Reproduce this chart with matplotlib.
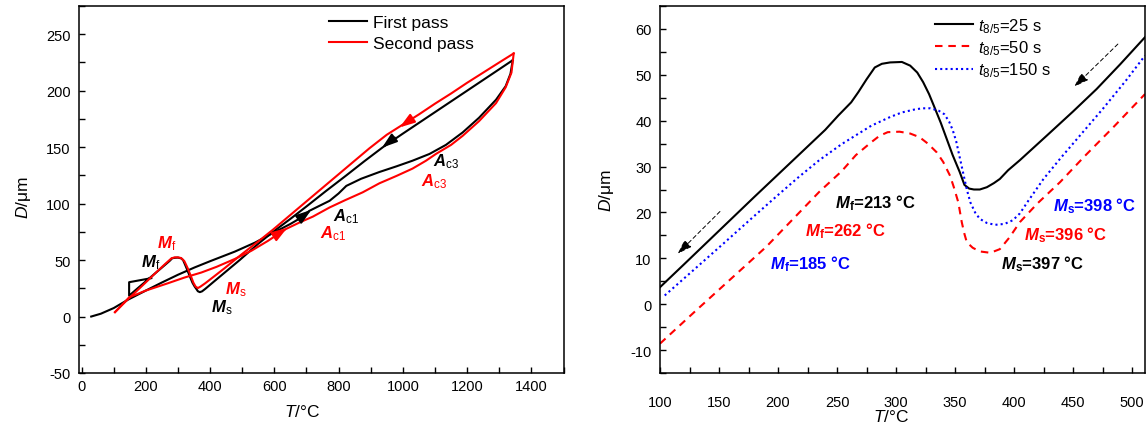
import matplotlib
matplotlib.use('Agg')
import matplotlib.pyplot as plt
from matplotlib.ticker import MultipleLocator

plt.rcParams['font.family'] = ['Liberation Sans', 'DejaVu Sans']
plt.rcParams['mathtext.fontset'] = 'custom'
plt.rcParams['mathtext.rm'] = 'Liberation Sans'
plt.rcParams['mathtext.it'] = 'Liberation Sans:italic'
plt.rcParams['mathtext.bf'] = 'Liberation Sans:bold'
plt.rcParams['mathtext.bfit'] = 'Liberation Sans:italic:bold'
plt.rcParams['axes.unicode_minus'] = False

# ---------------- Left panel data ----------------
first_heat_T = [30, 60, 100, 145, 200, 249, 300, 352, 400, 477, 540, 596, 650, 680, 709, 740, 772, 800,
                824, 870, 927, 980, 1030, 1083, 1134, 1186, 1237, 1290, 1320, 1335, 1342]
first_heat_D = [0, 2.5, 7.5, 15, 23, 30, 37, 43.5, 49, 57.5, 65.5, 74, 82, 87, 93.6, 98, 102.5, 109,
                115.7, 122, 128, 133, 138, 144, 152, 163, 176, 192, 204, 215, 227]

first_cool_T = [1342, 1300, 1250, 1200, 1150, 1100, 1050, 1000, 938, 880, 824, 760, 700, 650, 596, 550,
                492, 450, 410, 385, 375, 368, 362, 357, 352, 345, 335, 325, 316, 310, 300, 290, 282,
                275, 260, 230, 200, 170, 148, 148, 217]
first_cool_D = [227, 219, 209.5, 200, 190.5, 181, 171.5, 162, 150, 137.5, 125, 111, 97.5, 86.5, 75, 64.5,
                50, 40, 30.5, 24.5, 22.3, 21.6, 22.4, 24.5, 26.5, 30, 37, 44, 50, 51.5, 52.2, 52, 51.6,
                49.5, 45.8, 38.5, 31.2, 23.9, 18.5, 30.4, 34]

second_heat_T = [104, 125, 148, 200, 269, 320, 373, 420, 477, 530, 580, 636, 680, 720, 772, 820, 875, 927,
                 980, 1030, 1072, 1103, 1150, 1186, 1237, 1290, 1320, 1338, 1345]
second_heat_D = [3.9, 10, 17, 23, 29.5, 34.5, 39, 44, 51, 58.5, 67, 77.5, 83.5, 88.5, 96.6, 103, 110, 118,
                 124.5, 131, 138, 144, 152, 160, 173, 189, 203, 216, 233]

second_cool_T = [1345, 1300, 1250, 1200, 1150, 1100, 1050, 1000, 950, 896, 850, 800, 750, 700, 650, 596,
                 550, 500, 446, 410, 385, 370, 362, 355, 348, 340, 330, 320, 310, 300, 290, 280, 260,
                 230, 200, 170, 148, 125, 104]
second_cool_D = [233, 225, 216, 207, 197.5, 188.5, 179, 170, 161, 149, 138, 126, 114, 102, 90, 77,
                 66.5, 55.5, 43, 35, 29.5, 26.5, 25.2, 26.5, 30, 36, 43, 49, 51.8, 52.4, 52.4, 51.6, 46.5,
                 38.5, 30.3, 22.2, 16.3, 10, 3.9]

# arrows along curves (tail (T, D), head (T, D), colour)
left_arrows = [
    ((680, 87), (715, 94.5), 'black'),
    ((600, 71), (640, 78.5), 'red'),
    ((975, 158.5), (935, 149.5), 'black'),
    ((1030, 175.5), (990, 167.5), 'red'),
]

left_labels = [
    (186, 48.8, 'M', 'f', 'black'),
    (236, 65, 'M', 'f', 'red'),
    (445, 24.5, 'M', 's', 'red'),
    (404, 9, 'M', 's', 'black'),
    (782, 89, 'A', 'c1', 'black'),
    (741, 74, 'A', 'c1', 'red'),
    (1093, 138, 'A', 'c3', 'black'),
    (1057, 120, 'A', 'c3', 'red'),
]

# ---------------- Right panel data ----------------
t25_T = [100, 120, 150, 180, 217, 240, 251, 262, 268, 275, 282, 288, 295, 305, 312, 318, 323, 328, 332,
         338, 343, 348, 354, 358, 362, 366, 371, 377, 383, 388, 395, 405, 428, 450, 470, 490, 511]
t25_D = [3.7, 8.6, 16, 23.4, 32.4, 38, 41.1, 44, 46.2, 49, 51.6, 52.4, 52.7, 52.8, 52, 50.5, 48.4, 45.8,
         43.3, 39.5, 36, 32.5, 28.8, 26, 25.2, 25, 25, 25.5, 26.4, 27.3, 29.2, 31.4, 36.8, 42, 46.9, 52.3, 58.2]

t50_T = [100, 130, 160, 190, 217, 235, 254, 266, 279, 286, 293, 303, 312, 320, 327, 334.5, 340, 345.8,
         349, 352.8, 355.7, 358, 360, 365, 371, 380, 388, 396, 405, 420, 439, 460, 485, 511]
t50_D = [-8.6, -1.5, 5.5, 12.5, 19.7, 24.5, 29, 32.5, 35.3, 36.7, 37.5, 37.6, 37.2, 36.4, 35, 33.1, 31,
         28, 25.5, 22.2, 17.9, 15.3, 13.5, 12.3, 11.5, 11.2, 12, 14.5, 17.9, 22, 26.6, 32.3, 38.8, 45.8]

t150_T = [104, 130, 155, 178, 200, 217, 235, 254, 279, 295, 305, 315, 322, 329, 336, 341, 345, 348, 351,
          354, 357, 360, 363, 367, 371, 377, 384, 392, 399, 405, 412, 425, 440, 456, 475, 495, 511]
t150_D = [1.9, 7.8, 13.5, 18.8, 23.8, 27.6, 31.4, 34.9, 38.9, 40.8, 41.8, 42.4, 42.7, 42.7, 42.2, 41.4,
          39.8, 38, 35.5, 32, 28.5, 25, 22.2, 20, 18.6, 17.7, 17.3, 17.5, 18.3, 19.8, 22.5, 27.3, 32,
          36.8, 42.5, 48.8, 54.2]

right_arrows = [((488, 56.7), (451, 47.4)), ((150.8, 20.2), (115, 11))]

right_labels = [
    (248.3, 22.3, 'f', '213', 'black'),
    (222.9, 16.2, 'f', '262', 'red'),
    (193.2, 9.0, 'f', '185', 'blue'),
    (432.8, 21.6, 's', '398', 'blue'),
    (408.5, 15.3, 's', '396', 'red'),
    (388.7, 9.0, 's', '397', 'black'),
]

# ---------------- Figure ----------------
W, H = 1148, 427
fig = plt.figure(figsize=(W / 100, H / 100), dpi=100)
ax1 = fig.add_axes([79 / W, 1 - 374 / H, 484.5 / W, 367 / H])
ax2 = fig.add_axes([660 / W, 1 - 374 / H, 485 / W, 367 / H])

for ax in (ax1, ax2):
    for s in ax.spines.values():
        s.set_linewidth(1.1)
    ax.tick_params(which='both', direction='in', length=4.5, width=1.0, top=False, right=False,
                   labelsize=10.5)

# Left panel
lw = 1.5
ax1.plot(first_heat_T, first_heat_D, color='black', lw=lw, label='First pass', solid_joinstyle='round')
ax1.plot(first_cool_T, first_cool_D, color='black', lw=lw, solid_joinstyle='round')
ax1.plot(second_heat_T, second_heat_D, color='red', lw=lw, label='Second pass', solid_joinstyle='round')
ax1.plot(second_cool_T, second_cool_D, color='red', lw=lw, solid_joinstyle='round')
for (t0, t1, c) in left_arrows:
    ax1.annotate('', xy=t1, xytext=t0,
                 arrowprops=dict(arrowstyle='-|>,head_length=0.9,head_width=0.3', color=c, lw=1.5,
                                 shrinkA=0, shrinkB=0))
for (x, y, big, sub, c) in left_labels:
    ax1.text(x, y, r'$\mathbfit{%s}_{\mathrm{%s}}$' % (big, sub), color=c, fontsize=12,
             ha='left', va='center')

ax1.set_xlim(-8, 1500)
ax1.set_ylim(-50, 275)
ax1.xaxis.set_major_locator(MultipleLocator(200))
ax1.xaxis.set_minor_locator(MultipleLocator(100))
ax1.yaxis.set_major_locator(MultipleLocator(50))
ax1.yaxis.set_minor_locator(MultipleLocator(25))
ax1.tick_params(axis='x', which='both', pad=4)
ax1.tick_params(axis='y', which='both', pad=6)
ax1.set_xlabel(r'$\mathit{T}$/°C', fontsize=12.5)
ax1.set_ylabel(r'$\mathit{D}$/μm', fontsize=12.5)
ax1.xaxis.set_label_coords(0.46, -0.083)
ax1.yaxis.set_label_coords(-0.095, 0.48)
leg1 = ax1.legend(loc='upper left', bbox_to_anchor=((329 - 79) / 484.5, 0.976), frameon=False,
                  fontsize=12.5, handlelength=2.2, handletextpad=0.35, labelspacing=0.35,
                  borderpad=0, borderaxespad=0)

# Right panel
ax2.plot(t25_T, t25_D, color='black', lw=1.5, label=r'$\mathit{t}_{\mathrm{8/5}}$=25 s')
ax2.plot(t50_T, t50_D, color='red', lw=1.5, dashes=(3.6, 2.8), label=r'$\mathit{t}_{\mathrm{8/5}}$=50 s')
ax2.plot(t150_T, t150_D, color='blue', lw=1.5, dashes=(1.0, 1.5), label=r'$\mathit{t}_{\mathrm{8/5}}$=150 s')
for (t0, t1) in right_arrows:
    ax2.annotate('', xy=t1, xytext=t0,
                 arrowprops=dict(arrowstyle='-|>,head_length=0.9,head_width=0.3', color='black',
                                 lw=0.7, ls=(0, (4, 3)), shrinkA=0, shrinkB=0))
for (x, y, sub, val, c) in right_labels:
    ax2.text(x, y, r'$\mathbfit{M}_{\mathbf{%s}}$=%s °C' % (sub, val), color=c, fontsize=12,
             fontweight='bold', ha='left', va='center')

ax2.set_xlim(100, 511)
ax2.set_ylim(-15, 65)
ax2.xaxis.set_major_locator(MultipleLocator(50))
ax2.xaxis.set_minor_locator(MultipleLocator(25))
ax2.yaxis.set_major_locator(MultipleLocator(10))
ax2.yaxis.set_minor_locator(MultipleLocator(5))
ax2.tick_params(axis='x', which='both', pad=16)
ax2.tick_params(axis='y', which='both', pad=6)
ax2.set_xlabel(r'$\mathit{T}$/°C', fontsize=12.5)
ax2.set_ylabel(r'$\mathit{D}$/μm', fontsize=12.5)
ax2.xaxis.set_label_coords(0.476, -0.095)
ax2.yaxis.set_label_coords(-0.091, 0.5)
leg2 = ax2.legend(loc='upper left', bbox_to_anchor=((935 - 660) / 485, 0.972), frameon=False,
                  fontsize=12, handlelength=2.3, handletextpad=0.3, labelspacing=0.2,
                  borderpad=0, borderaxespad=0)

fig.savefig('out.png', dpi=100)
